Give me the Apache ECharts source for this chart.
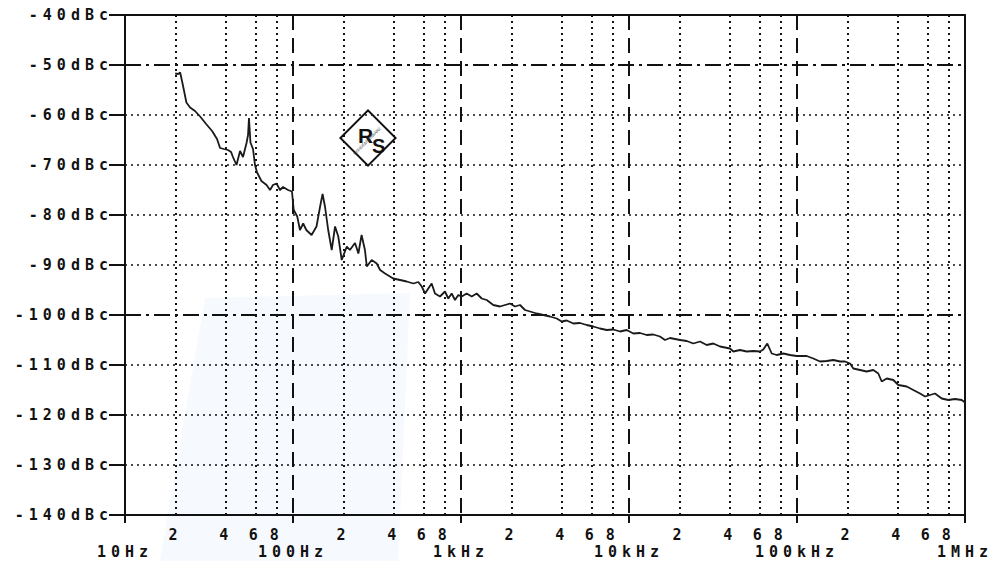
<!DOCTYPE html>
<html><head><meta charset="utf-8">
<script src="https://cdn.jsdelivr.net/npm/echarts@6/dist/echarts.min.js"></script>
<style>
html,body{margin:0;padding:0;background:#fff;}
#chart{width:996px;height:561px;}
#chart text[style*="DejaVu Sans Mono"]{letter-spacing:5px;}
</style></head><body><div id="chart"></div>
<script>
// Phase noise trace (Hz, dBc)
const freqHz = [19.9,20.7,21.3,22.1,23.2,24.4,26.1,28.0,30.4,33.0,35.3,36.8,38.8,41.0,42.8,43.9,46.1,48.4,50.4,52.9,54.0,54.7,55.8,57.8,59.4,61.1,64.9,69.6,73.0,76.0,79.8,83.7,87.2,93.4,98.6,
  101,106,110,115,120,129,138,145,150,155,162,170,178,186,195,209,218,234,245,256,268,275,294,315,330,
  353,395,434,475,520,557,584,611,639,669,700,750,803,840,880,921,964,
  1010,1081,1158,1240,1328,1422,1557,1707,1828,1957,2096,2245,2404,2575,2822,3090,3387,3712,3976,4259,4663,5109,5600,6131,6720,7368,8065,8842,9690,
  10610,11630,12750,13950,15290,16380,17540,18780,20120,22060,24140,26470,29000,31760,34810,39930,41780,45790,50190,54960,60240,63000,66560,70710,75740,82890,90850,99590,
  114200,125000,137100,150300,164500,180300,193100,206900,216400,237100,259900,284700,304700,319300,342000,374400,401100,449800,492400,539700,578000,619000,663000,726700,795500,871900,955900,1000000];
const levelDbc = [-51.7,-51.8,-51.5,-54.0,-57.5,-58.5,-59.2,-60.3,-61.8,-63.2,-64.8,-66.6,-66.8,-67.0,-67.4,-68.4,-70.0,-67.2,-68.4,-65.6,-64.0,-60.6,-65.5,-66.8,-70.0,-71.5,-73.2,-74.0,-75.0,-74.0,-73.7,-75.0,-74.4,-75.0,-75.3,
  -79.0,-80.3,-83.0,-81.7,-83.0,-84.0,-82.3,-78.3,-75.8,-78.3,-83.0,-87.0,-82.3,-84.3,-89.0,-86.3,-87.0,-85.6,-87.7,-84.0,-87.0,-90.3,-89.0,-89.7,-91.0,
  -91.7,-92.7,-93.0,-93.3,-93.7,-93.4,-94.3,-95.7,-94.7,-93.7,-95.7,-96.3,-95.3,-96.7,-95.7,-97.0,-96.0,
  -96.3,-95.7,-96.3,-95.7,-96.7,-97.0,-98.0,-98.3,-98.0,-97.7,-98.3,-98.0,-99.0,-99.3,-99.7,-100.0,-100.3,-100.7,-101.3,-101.1,-101.7,-101.6,-102.0,-102.3,-102.7,-103.0,-102.9,-103.3,-103.0,
  -103.7,-103.6,-104.0,-103.9,-104.3,-105.0,-104.6,-104.8,-105.0,-105.2,-105.7,-105.3,-106.0,-105.7,-106.3,-106.7,-107.3,-107.0,-107.3,-107.2,-107.3,-106.9,-105.7,-107.7,-108.0,-107.7,-108.0,-108.2,
  -108.2,-108.7,-109.3,-109.2,-109.0,-109.3,-109.3,-109.7,-110.7,-111.0,-111.3,-111.0,-111.7,-113.3,-112.7,-113.0,-114.0,-114.3,-115.0,-115.7,-116.3,-116.0,-115.7,-116.7,-117.0,-116.8,-117.0,-117.5];

const decadeTicks = [10,100,1000,10000,100000,1000000];
const decadeLabels = ['10Hz','100Hz','1kHz','10kHz','100kHz','1MHz'];
const minorTicks = [20,40,60,80,200,400,600,800,2000,4000,6000,8000,20000,40000,60000,80000,200000,400000,600000,800000];
const minorLabels = ['2','4','6','8','2','4','6','8','2','4','6','8','2','4','6','8','2','4','6','8'];
const levelTicks = [-140,-130,-120,-110,-100,-90,-80,-70,-60,-50,-40];
const dashDotLevels = [-50,-100];
const dottedLevels = levelTicks.filter(v => dashDotLevels.indexOf(v) < 0);

const INK = '#111';
const labelFont = {fontFamily:'DejaVu Sans Mono', fontWeight:'bold', fontSize:15, color:INK};

const chart = echarts.init(document.getElementById('chart'), null, {renderer:'svg'});
chart.setOption({
  animation:false,
  backgroundColor:'#fff',
  grid:{left:125, right:31, top:15, bottom:46},
  xAxis:[
    {type:'log', logBase:10, min:10, max:1000000, position:'bottom',
     axisLine:{show:true, lineStyle:{color:INK, width:2}},
     axisTick:{show:true, length:8, customValues:decadeTicks, lineStyle:{color:INK, width:2}},
     axisLabel:Object.assign({customValues:decadeTicks, margin:29,
       formatter:v => decadeLabels[decadeTicks.indexOf(Math.round(v))] || ''}, labelFont),
     splitLine:{show:true, lineStyle:{color:INK, width:2, type:[15,8]}},
     minorTick:{show:false}, minorSplitLine:{show:false}},
    {type:'log', logBase:10, min:10, max:1000000, position:'bottom',
     axisLine:{show:false},
     axisTick:{show:false, customValues:minorTicks},
     axisLabel:Object.assign({customValues:minorTicks, margin:12,
       formatter:v => minorLabels[minorTicks.indexOf(Math.round(v))] || ''}, labelFont),
     splitLine:{show:true, lineStyle:{color:INK, width:2, type:[2,4]}}},
    {type:'log', logBase:10, min:10, max:1000000, position:'top',
     axisLine:{show:true, lineStyle:{color:INK, width:2}},
     axisTick:{show:false}, axisLabel:{show:false}, splitLine:{show:false}}
  ],
  yAxis:[
    {type:'value', min:-140, max:-40, interval:10, position:'left',
     axisLine:{show:true, lineStyle:{color:INK, width:2}},
     axisTick:{show:true, length:16, customValues:dottedLevels, lineStyle:{color:INK, width:2}},
     axisLabel:Object.assign({customValues:levelTicks, margin:12, formatter:v => v + 'dBc'}, labelFont),
     splitLine:{show:true, lineStyle:{color:INK, width:1.6, type:[2,4]}}},
    {type:'value', min:-140, max:-40, interval:10, position:'left',
     axisLine:{show:false},
     axisTick:{show:true, length:16, customValues:dashDotLevels, lineStyle:{color:INK, width:2}},
     axisLabel:{show:false},
     splitLine:{show:true, lineStyle:{color:INK, width:2, type:[16,5,3,5]}}},
    {type:'value', min:-140, max:-40, interval:10, position:'right',
     axisLine:{show:true, lineStyle:{color:INK, width:2}},
     axisTick:{show:false}, axisLabel:{show:false}, splitLine:{show:false}}
  ],
  graphic:[
    {type:'polygon', z:-10, silent:true,
     shape:{points:[[205,298],[410,293],[398,561],[160,561]]},
     style:{fill:'#f6f9fd'}},
    {type:'group', x:368, y:138, z:10, children:[
      {type:'rect', rotation:Math.PI/4, shape:{x:-19.5, y:-19.5, width:39, height:39},
       style:{fill:'#fff', stroke:INK, lineWidth:2}},
      {type:'text', x:-10, y:-3, style:{text:'R', fontFamily:'Liberation Sans', fontWeight:'bold', fontSize:21, fill:INK, textAlign:'left', textVerticalAlign:'middle'}},
      {type:'text', x:4, y:8, style:{text:'S', fontFamily:'Liberation Sans', fontWeight:'bold', fontSize:20, fill:INK, textAlign:'left', textVerticalAlign:'middle'}},
      {type:'text', x:-1, y:3, rotation:Math.PI/4, style:{text:'ROHDE&SCHWARZ', fontFamily:'Liberation Sans', fontSize:4, fill:'#333', textAlign:'center', textVerticalAlign:'middle'}}
    ]}
  ],
  series:[{
    type:'line', xAxisIndex:0, yAxisIndex:0,
    data:freqHz.map((f,i) => [f, levelDbc[i]]),
    showSymbol:false, symbol:'none', smooth:false,
    lineStyle:{color:'#1a1a1a', width:1.8}, z:5
  }]
});
</script></body></html>
